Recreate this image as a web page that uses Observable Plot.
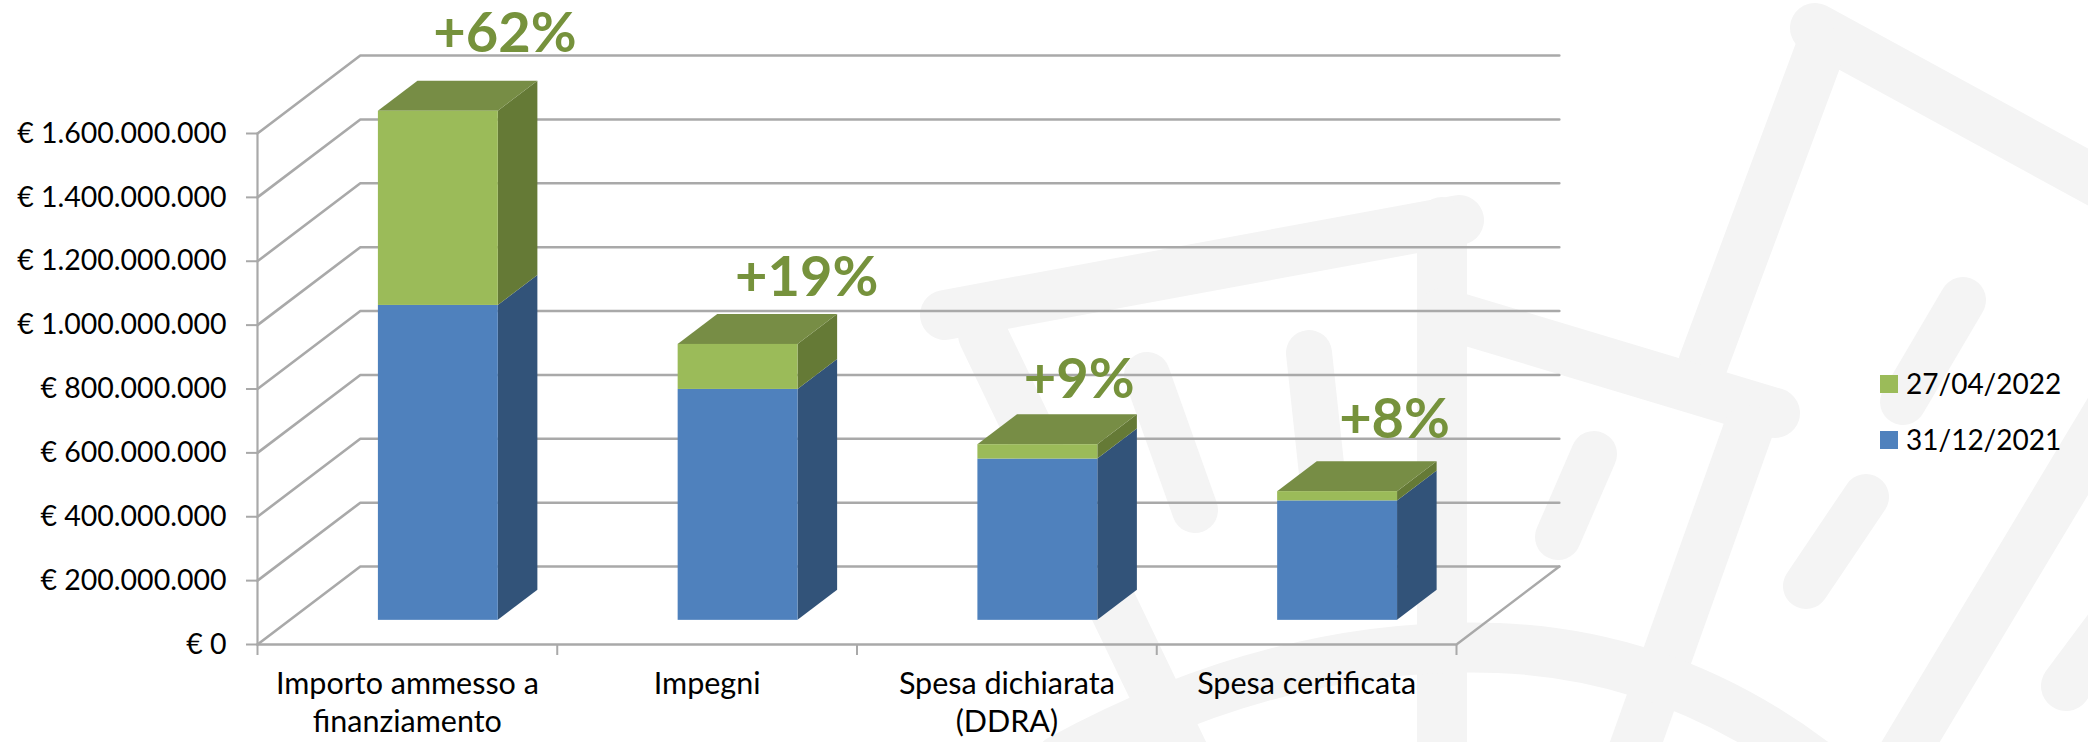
<!DOCTYPE html>
<html><head><meta charset="utf-8">
<script src="https://cdn.jsdelivr.net/npm/d3@7"></script>
<script src="https://cdn.jsdelivr.net/npm/@observablehq/plot@0.6"></script>
<style>
html,body{margin:0;padding:0;background:#fff;overflow:hidden}
#wrap{position:relative;width:2088px;height:742px;font-family:Lato,sans-serif}
#wm{position:absolute;left:0;top:0}
#chart{position:absolute;left:0;top:0}
#legend{position:absolute;left:1880px;top:356px}
#legend div{line-height:55px}
#legend svg{margin-right:8px !important}
</style></head><body>
<div id="wrap">
<svg id="wm" width="2088" height="742" fill="none" stroke="#f4f4f4" stroke-width="50" stroke-linecap="round">
<path d="M1815,28L2130,200"/><path d="M1820,50L1703,364"/><path d="M945,315L1459,220"/><path d="M1442,222V770"/>
<path d="M1442,313L1775,413"/><path d="M1748,430L1630,760"/><path d="M983,335L1187,760"/>
<path d="M1147,375L1195,510" stroke-width="46"/><path d="M1309,353L1327,520" stroke-width="46"/>
<path d="M1594,454L1558,537" stroke-width="46"/><path d="M1866,497L1806,586" stroke-width="46"/>
<path d="M1963,300L1903,402" stroke-width="46"/><path d="M2120,393L1880,793"/><path d="M2066,686L2130,600"/>
<path d="M1060,760Q1280,640 1498,648Q1680,655 1830,775"/>
</svg>
<div id="chart"></div><div id="legend"></div>
</div>
<script>
// Data
const categories = ["Importo ammesso a\nfinanziamento", "Impegni", "Spesa dichiarata\n(DDRA)", "Spesa certificata"];
const values2021 = [986e6, 723e6, 505e6, 374e6];
const values2022 = [1594e6, 864e6, 550e6, 403e6];
const growthLabels = ["+62%", "+19%", "+9%", "+8%"];
const legendDates = ["27/04/2022", "31/12/2021"];
const yTicks = [0, 2e8, 4e8, 6e8, 8e8, 1e9, 1.2e9, 1.4e9, 1.6e9];

// Projection of the pseudo-3D box, in scale units per unit of depth
const depthX = 0.343, depthY = 244e6;
const barStart = 0.297, barWidth = 0.4, barFront = 0.31, barBack = 0.695;
const px = (c, d) => c + d * depthX;
const py = (v, d) => v + d * depthY;
const labelShiftX = [0.119, 0.126, 0.035, 0.087];
const labelShiftY = [260e6, 226e6, 223e6, 245e6];

const euro = v => v === 0 ? "€ 0" : "€ " + d3.format(",")(v).replace(/,/g, ".");

const colors = {
  blue: {front: "#4f81bd", side: "#325379"},
  green: {front: "#9bbb59", side: "#657a36", top: "#778d45"}
};

const segments = categories.flatMap((c, i) => [
  {i, from: 0, to: values2021[i], tone: colors.blue},
  {i, from: values2021[i], to: values2022[i], tone: colors.green}
]);

const gridRows = yTicks.flatMap((t, k) => [
  {k, x: px(0, 0), y: py(t, 0)}, {k, x: px(0, 1), y: py(t, 1)}, {k, x: px(4, 1), y: py(t, 1)}
]);
const floorEdge = [{x: px(0, 0), y: 0}, {x: px(4, 0), y: 0}, {x: px(4, 1), y: py(0, 1)}];
const wallEdge = [{x: 0, y: 0}, {x: 0, y: yTicks[yTicks.length - 1]}];

const sideRows = segments.flatMap((s, n) => [barFront, barBack].map(d => ({
  n, fill: s.tone.side, x: px(s.i + barStart + barWidth, d), y1: py(s.from, d), y2: py(s.to, d)
})));
const topRows = categories.flatMap((c, i) => [barFront, barBack].map(d => ({
  i, y: py(values2022[i], d), x1: px(i + barStart, d), x2: px(i + barStart + barWidth, d)
})));
const fronts = segments.map(s => ({
  x1: px(s.i + barStart, barFront), x2: px(s.i + barStart + barWidth, barFront),
  y1: py(s.from, barFront), y2: py(s.to, barFront), fill: s.tone.front
}));
const catLabels = categories.map((name, i) => ({name, x: i + 0.5}));
const growth = growthLabels.map((t, i) => ({
  t, x: i + 0.5 + 0.31 * depthX + labelShiftX[i] + 0.1, y: values2022[i] + labelShiftY[i]
}));

const gridColor = "#a9a9a9";
const chart = Plot.plot({
  width: 2088, height: 742,
  marginLeft: 257, marginRight: 632, marginTop: 133, marginBottom: 98,
  style: {background: "transparent", fontFamily: "Lato, sans-serif", overflow: "visible"},
  x: {domain: [0, 4]},
  y: {domain: [0, 1.6e9]},
  marks: [
    Plot.line(gridRows, {x: "x", y: "y", z: "k", stroke: gridColor, strokeWidth: 2.6}),
    Plot.line(floorEdge, {x: "x", y: "y", stroke: gridColor, strokeWidth: 2.4}),
    Plot.line(wallEdge, {x: "x", y: "y", stroke: gridColor, strokeWidth: 2.2}),
    Plot.axisY({ticks: yTicks, tickFormat: euro, tickSize: 11, tickPadding: 20, stroke: gridColor, strokeWidth: 2, fontSize: 28.5, fill: "#000", label: null}),
    Plot.axisX({ticks: [0, 1, 2, 3, 4], tickSize: 11, tickFormat: () => "", stroke: gridColor, strokeWidth: 2, label: null}),
    Plot.areaY(sideRows, {x: "x", y1: "y1", y2: "y2", z: "n", fill: "fill"}),
    Plot.areaX(topRows, {y: "y", x1: "x1", x2: "x2", z: "i", fill: colors.green.top}),
    Plot.rect(fronts, {x1: "x1", x2: "x2", y1: "y1", y2: "y2", fill: "fill"}),
    Plot.text(catLabels, {x: "x", y: () => 0, text: "name", fontSize: 30.5, fill: "#000", lineHeight: 1.25, lineAnchor: "top", dy: 22}),
    Plot.text(growth, {x: "x", y: "y", text: "t", fontSize: 56, fontWeight: 700, fill: "#76923c", lineAnchor: "bottom"})
  ]
});
document.getElementById("chart").append(chart);

const legend = Plot.legend({
  color: {domain: legendDates, range: [colors.green.front, colors.blue.front]},
  legend: "swatches", columns: 1, swatchSize: 18,
  style: {fontSize: "28px", fontFamily: "Lato, sans-serif", color: "#000", background: "transparent"}
});
document.getElementById("legend").append(legend);
</script>
</body></html>
